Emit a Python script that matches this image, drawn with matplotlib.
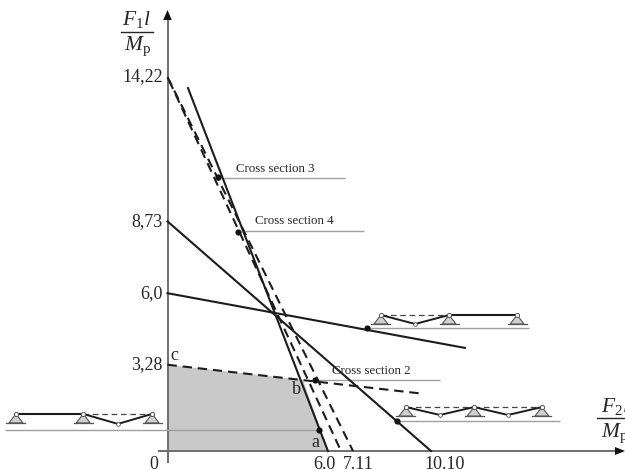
import matplotlib
matplotlib.use("Agg")
import matplotlib.pyplot as plt

plt.rcParams['font.family'] = ['Liberation Serif', 'DejaVu Serif']
plt.rcParams['mathtext.fontset'] = 'custom'
plt.rcParams['mathtext.rm'] = 'Liberation Serif'
plt.rcParams['mathtext.it'] = 'Liberation Serif:italic'

# ---- values (F2 l/Mp, F1 l/Mp) ----
y_ticks = [14.22, 8.73, 6.0, 3.28]
y_tick_labels = ['14,22', '8,73', '6,0', '3,28']
x_tick_pos = [6.0, 7.30, 10.63]
x_tick_labels = ['6.0', '7.11', '10.10']

solid_steep_x = [0.786, 6.15]
solid_steep_y = [13.80, 0]
solid_mid_x = [0, 10.10]
solid_mid_y = [8.73, 0]
solid_flat_x = [0, 11.40]
solid_flat_y = [6.0, 3.92]

dash_a_x = [0, 7.11]
dash_a_y = [14.22, 0]
dash_b_x = [0, 6.65]
dash_b_y = [14.22, 0]
dash_c_x = [0, 9.68]
dash_c_y = [3.28, 2.19]

region_x = [0, 0, 5.2, 6.15]
region_y = [0, 3.28, 2.70, 0]

dots_x = [1.94, 2.70, 5.65, 8.80, 7.65, 5.81]
dots_y = [10.42, 8.33, 2.70, 1.14, 4.68, 0.80]

leader_x0 = [2.09, 2.97, 5.65, 8.80, 7.65, -6.23]
leader_x1 = [6.80, 7.53, 10.44, 15.04, 13.86, 5.81]
leader_y = [10.38, 8.37, 2.70, 1.14, 4.66, 0.80]

section_labels = ['Cross section 3', 'Cross section 4', 'Cross section 2']
section_x = [2.62, 3.35, 6.32]
section_y = [10.74, 8.74, 3.06]

point_labels = ['c', 'b', 'a']
point_x = [0.25, 4.93, 5.65]
point_y = [3.65, 2.32, 0.34]

beam_left_x = [-5.81, -3.23, -0.59]
beam_left_y = 1.41
beam_left_kink_x = [-1.90]
beam_left_kink_y = 1.03

beam_top_x = [8.18, 10.79, 13.40]
beam_top_y = 5.17
beam_top_kink_x = [9.49]
beam_top_kink_y = 4.83

beam_low_x = [9.14, 11.75, 14.35]
beam_low_y = 1.67
beam_low_kink_x = [10.44, 13.05]
beam_low_kink_y = 1.37

# ---- figure: the axes fill the canvas ----
W, H = 625, 470
X0, Y0, SX, SY = 167.5, 451.0, 26.09, 26.3
fig = plt.figure(figsize=(W / 100, H / 100), dpi=100)
ax = fig.add_axes([0, 0, 1, 1])
ax.set_xlim(-X0 / SX, (W - X0) / SX)
ax.set_ylim((Y0 - H) / SY, Y0 / SY)
ax.axis('off')


def px(x):
    return (x - X0) / SX


def py(y):
    return (Y0 - y) / SY


DARK = '#1c1c1c'
AXIS = '#6e6e6e'
LEAD = '#a0a0a0'
TEXT = '#262626'

ax.fill(region_x, region_y, color='#c9c9c9', lw=0, zorder=1)

# coordinate axes
ax.plot([px(159), px(616)], [0, 0], color=AXIS, lw=1.4, zorder=2)
ax.plot([0, 0], [py(461.5), py(18)], color=AXIS, lw=1.4, zorder=2)
ax.fill([0, px(163.2), px(171.8)], [py(10), py(20), py(20)], color='#111111', lw=0, zorder=3)
ax.fill([px(625), px(615), px(615)], [0, py(447), py(455)], color='#111111', lw=0, zorder=3)

# leader lines
for a, b, y in zip(leader_x0, leader_x1, leader_y):
    ax.plot([a, b], [y, y], color=LEAD, lw=1.0, zorder=2, solid_capstyle='butt')

# limit lines
for xs, ys in [(solid_steep_x, solid_steep_y), (solid_mid_x, solid_mid_y), (solid_flat_x, solid_flat_y)]:
    ax.plot(xs, ys, color=DARK, lw=1.5, zorder=4)
ax.plot(dash_a_x, dash_a_y, color=DARK, lw=1.5, ls=(0, (4.5, 2.8)), zorder=4)
ax.plot(dash_b_x, dash_b_y, color=DARK, lw=1.5, ls=(5.5, (4.5, 2.8)), zorder=4)
ax.plot(dash_c_x, dash_c_y, color=DARK, lw=1.5, ls=(0, (4.5, 2.8)), zorder=4)

ax.scatter(dots_x, dots_y, s=20, color='#111111', zorder=5, linewidths=0)


def beam(xs, y, kink_xs, kink_y, plastic):
    """plastic: for each span the kink index, or None when the span stays straight"""
    hw, h, bw = 7 / SX, 9 / SY, 9.5 / SX
    for x in xs:
        ax.fill([x, x - hw, x + hw], [y, y - h, y - h], facecolor='#d0d0d0', edgecolor='#555555', lw=0.8, zorder=4)
        ax.plot([x - bw, x + bw], [y - h, y - h], color='#555555', lw=0.9, zorder=4)
    ax.scatter(xs, [y] * len(xs), s=9, facecolor='white', edgecolor='#555555', linewidths=0.7, zorder=6)
    for i, k in enumerate(plastic):
        a, b = xs[i], xs[i + 1]
        if k is None:
            ax.plot([a, b], [y, y], color=DARK, lw=1.5, zorder=5)
        else:
            ax.plot([a, b], [y, y], color='#444444', lw=0.9, ls=(0, (4.5, 3)), zorder=4)
            ax.plot([a, kink_xs[k], b], [y, kink_y, y], color=DARK, lw=1.4, zorder=5)
            ax.scatter([kink_xs[k]], [kink_y], s=7, facecolor='white', edgecolor='#555555', linewidths=0.6, zorder=6)


beam(beam_left_x, beam_left_y, beam_left_kink_x, beam_left_kink_y, [None, 0])
beam(beam_top_x, beam_top_y, beam_top_kink_x, beam_top_kink_y, [0, None])
beam(beam_low_x, beam_low_y, beam_low_kink_x, beam_low_kink_y, [0, 1])

# tick labels
for v, s in zip(y_ticks, y_tick_labels):
    ax.annotate(s, (0, v), xytext=(-3.5, 0), textcoords='offset points', ha='right', va='center',
                fontsize=13, color=TEXT, zorder=7)
for v, s in zip(x_tick_pos, x_tick_labels):
    ax.text(v, py(469), s, ha='center', va='baseline', fontsize=13, color=TEXT, zorder=7)
ax.text(px(153.5), py(469), '0', ha='center', va='baseline', fontsize=13, color=TEXT, zorder=7)

# point labels
for s, x, y in zip(point_labels, point_x, point_y):
    ax.text(x, y, s, ha='center', va='center', fontsize=13, color=TEXT, zorder=7)

for s, x, y in zip(section_labels, section_x, section_y):
    ax.text(x, y, s, ha='left', va='center', fontsize=9.3, color=TEXT, zorder=7)

# axis fractions
FRAC = 15.5
ax.text(px(122), py(25), r'$F_{\mathrm{1}}l$', ha='left', va='baseline', fontsize=FRAC, color=TEXT)
ax.plot([px(121), px(153)], [py(32)] * 2, color=TEXT, lw=1.0)
ax.text(px(124), py(50), r'$M_{\mathrm{p}}$', ha='left', va='baseline', fontsize=FRAC, color=TEXT)

ax.text(px(601), py(412), r'$F_{\mathrm{2}}l$', ha='left', va='baseline', fontsize=FRAC, color=TEXT, clip_on=True)
ax.plot([px(597), px(625)], [py(418)] * 2, color=TEXT, lw=1.0)
ax.text(px(601), py(437), r'$M_{\mathrm{p}}$', ha='left', va='baseline', fontsize=FRAC, color=TEXT, clip_on=True)

fig.savefig('out.png', dpi=100)
